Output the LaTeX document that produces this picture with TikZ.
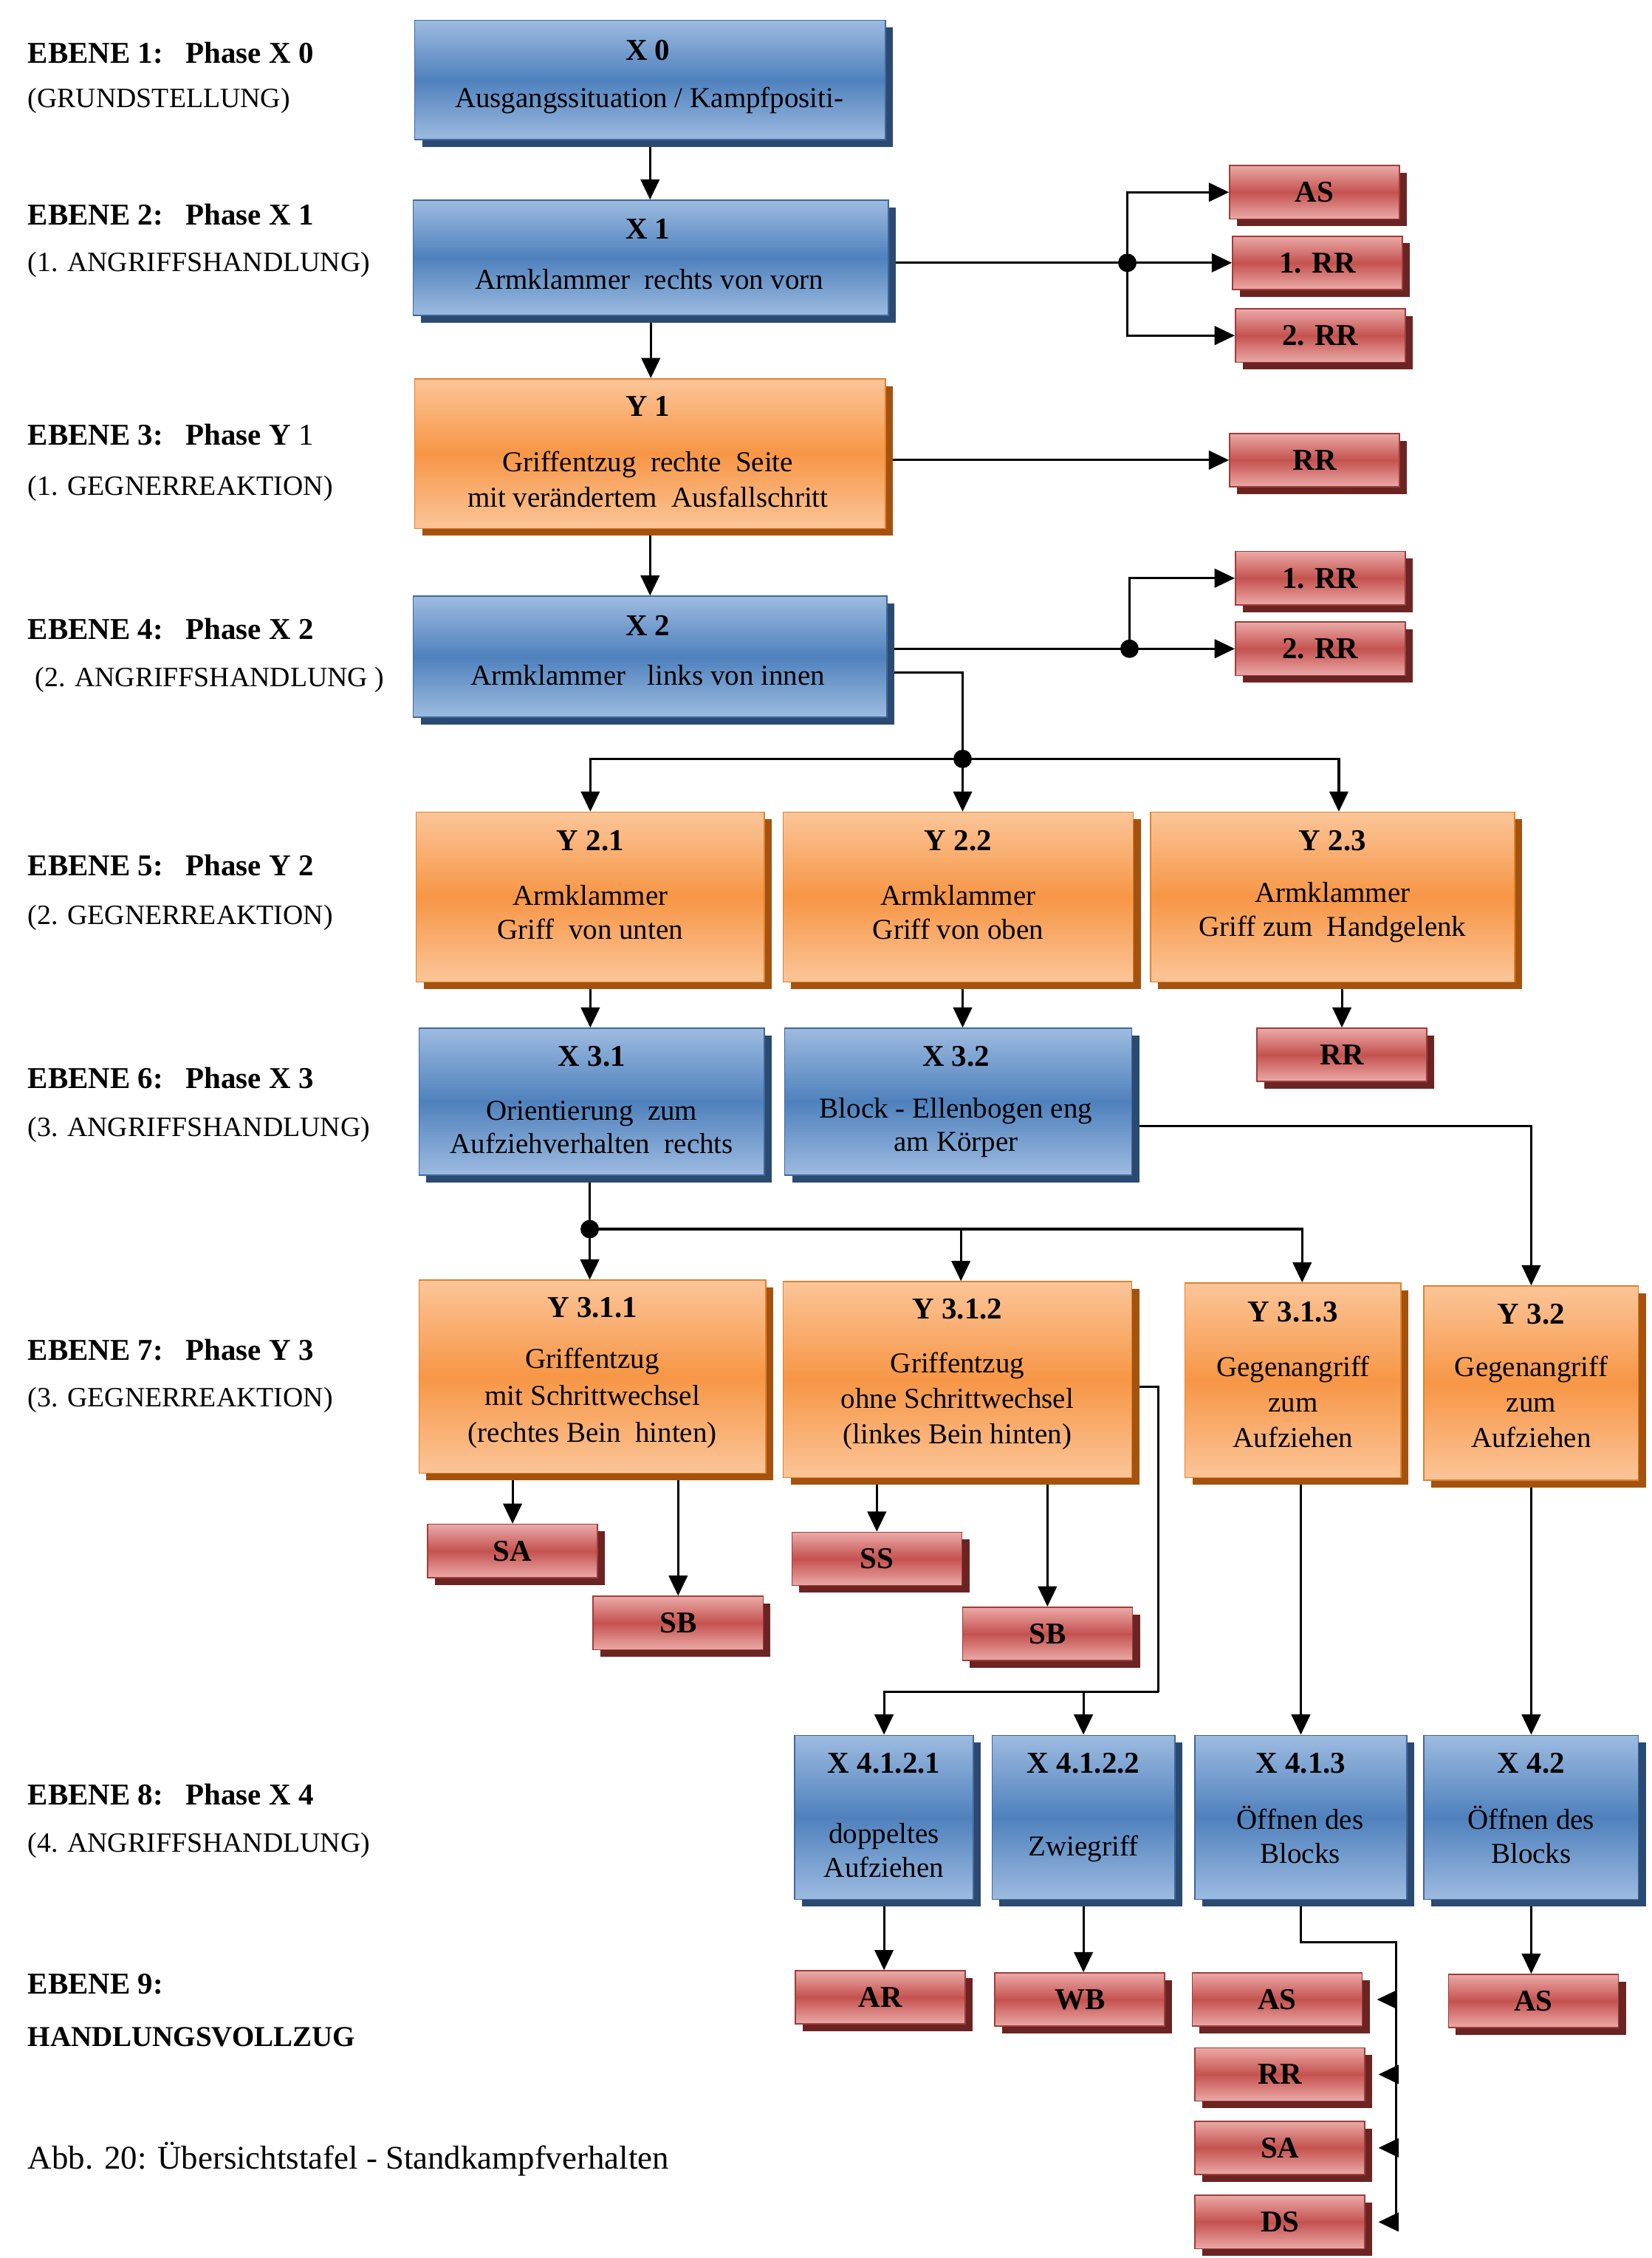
\documentclass[tikz,border=0pt]{standalone}
\usepackage{fontspec}
\setmainfont{Liberation Serif}
\usetikzlibrary{shadows,arrows.meta}
\pgfdeclarelayer{paper}
\pgfdeclarelayer{bg}
\pgfsetlayers{paper,bg,main}
\definecolor{bluelight}{HTML}{9DBBE0}
\definecolor{bluemid}{HTML}{4F81BD}
\definecolor{bluedraw}{HTML}{41679A}
\definecolor{blueshadow}{HTML}{2B4A72}
\definecolor{orlight}{HTML}{FBC598}
\definecolor{ormid}{HTML}{F79646}
\definecolor{ordraw}{HTML}{E0812F}
\definecolor{orshadow}{HTML}{A4520E}
\definecolor{redlight}{HTML}{EBAAA8}
\definecolor{redmid}{HTML}{C4524F}
\definecolor{reddraw}{HTML}{9E3D3A}
\definecolor{redshadow}{HTML}{6B2422}
\tikzset{
  box/.style={rectangle, inner sep=0pt, line width=0.4pt},
  bluebox/.style={box, draw=bluedraw, top color=bluelight, bottom color=bluelight, middle color=bluemid,
    drop shadow={shadow xshift=2.6pt, shadow yshift=-2.5pt, fill=blueshadow, opacity=1}},
  orbox/.style={box, draw=ordraw, top color=orlight, bottom color=orlight, middle color=ormid,
    drop shadow={shadow xshift=2.6pt, shadow yshift=-2.5pt, fill=orshadow, opacity=1}},
  redbox/.style={box, draw=reddraw, top color=redlight, bottom color=redlight, middle color=redmid,
    minimum width=59pt, minimum height=18.5pt, font=\fontsize{10.5}{12}\selectfont\bfseries,
    drop shadow={shadow xshift=2.6pt, shadow yshift=-2.5pt, fill=redshadow, opacity=1}},
  ttl/.style={inner sep=0pt, font=\fontsize{10.5}{12}\selectfont\bfseries},
  bdy/.style={inner sep=0pt, align=center, font=\fontsize{10}{12}\selectfont},
  lbl/.style={anchor=west, inner sep=0pt, font=\fontsize{10.5}{12}\selectfont\bfseries},
  sub/.style={anchor=west, inner sep=0pt, font=\fontsize{9.7}{12}\selectfont},
  ln/.style={draw, line width=0.8pt},
  arr/.style={draw, line width=0.8pt, -{Triangle[length=7pt,width=6.5pt]}},
}
\begin{document}
\begin{tikzpicture}[x=0.5pt, y=-0.5pt]
\useasboundingbox (0,0) rectangle (1147,1568);
\begin{pgfonlayer}{paper}
\fill[white] (0,0) rectangle (1147,1568);
\end{pgfonlayer}

% ---------- left labels ----------
\node[lbl] (e1) at (19,36.6) {EBENE 1:\ \ \ Phase X 0};
\node[sub] (s1) at (19,70) {(GRUNDSTELLUNG)};
\node[lbl] (e2) at (19,149) {EBENE 2:\ \ \ Phase X 1};
\node[sub] (s2) at (19,184) {(1. ANGRIFFSHANDLUNG)};
\node[lbl] (e3) at (19,302) {EBENE 3:\ \ \ Phase Y \textmd{1}};
\node[sub] (s3) at (19,339) {(1. GEGNERREAKTION)};
\node[lbl] (e4) at (19,437) {EBENE 4:\ \ \ Phase X 2};
\node[sub] (s4) at (24,472) {(2. ANGRIFFSHANDLUNG )};
\node[lbl] (e5) at (19,600.8) {EBENE 5:\ \ \ Phase Y 2};
\node[sub] (s5) at (19,637.3) {(2. GEGNERREAKTION)};
\node[lbl] (e6) at (19,748.9) {EBENE 6:\ \ \ Phase X 3};
\node[sub] (s6) at (19,784.7) {(3. ANGRIFFSHANDLUNG)};
\node[lbl] (e7) at (19,937.2) {EBENE 7:\ \ \ Phase Y 3};
\node[sub] (s7) at (19,972) {(3. GEGNERREAKTION)};
\node[lbl] (e8) at (19,1246) {EBENE 8:\ \ \ Phase X 4};
\node[sub] (s8) at (19,1281.7) {(4. ANGRIFFSHANDLUNG)};
\node[lbl] (e9) at (19,1377.9) {EBENE 9:};
\node[lbl, font=\fontsize{10}{12}\selectfont\bfseries] (s9) at (19,1414.4) {HANDLUNGSVOLLZUG};
\node[sub, font=\fontsize{11.5}{13}\selectfont] (cap) at (19,1499.3) {Abb. 20: Übersichtstafel - Standkampfverhalten};

% ---------- main boxes ----------
\node[bluebox, minimum width=163.5pt, minimum height=41.5pt] (x0) at (451.5,55.5) {};
\node[bluebox, minimum width=165pt, minimum height=40pt] (x1) at (452,179) {};
\node[orbox, minimum width=163.5pt, minimum height=52pt] (y1) at (451.5,315) {};
\node[bluebox, minimum width=164.5pt, minimum height=42pt] (x2) at (451.5,456) {};

\node[orbox, minimum width=121pt, minimum height=59pt] (y21) at (410,623) {};
\node[orbox, minimum width=121.5pt, minimum height=59pt] (y22) at (665.5,623) {};
\node[orbox, minimum width=126.5pt, minimum height=59pt] (y23) at (925.5,623) {};

\node[bluebox, minimum width=120pt, minimum height=51pt] (x31) at (411,765) {};
\node[bluebox, minimum width=120.5pt, minimum height=51pt] (x32) at (665.5,765) {};

\node[orbox, minimum width=120.5pt, minimum height=67pt] (y311) at (411.5,956) {};
\node[orbox, minimum width=121pt, minimum height=68pt] (y312) at (665,958) {};
\node[orbox, minimum width=75pt, minimum height=67.5pt] (y313) at (898,958.5) {};
\node[orbox, minimum width=74.5pt, minimum height=67.5pt] (y32) at (1063.5,960.5) {};

\node[bluebox, minimum width=62pt, minimum height=57pt] (x4121) at (614,1262) {};
\node[bluebox, minimum width=63.5pt, minimum height=57pt] (x4122) at (752.5,1262) {};
\node[bluebox, minimum width=73.5pt, minimum height=57pt] (x413) at (903.5,1262) {};
\node[bluebox, minimum width=74.5pt, minimum height=57pt] (x42) at (1063.5,1262) {};

% ---------- box texts ----------
\node[ttl] (x0t) at (450,34.7) {X 0};
\node[bdy] (x0b) at (451,69.5) {Ausgangssituation / Kampfpositi-};
\node[ttl] (x1t) at (450,159) {X 1};
\node[bdy] (x1b) at (451,194) {Armklammer\ \ rechts von vorn};
\node[ttl] (y1t) at (450,282) {Y 1};
\node[bdy, font=\fontsize{10}{12.25}\selectfont] (y1b) at (450,333) {Griffentzug\ \ rechte\ \ Seite\\mit verändertem\ \ Ausfallschritt};
\node[ttl] (x2t) at (450,434.5) {X 2};
\node[bdy] (x2b) at (450,469) {Armklammer\ \ \ links von innen};

\node[ttl] (y21t) at (410,583.6) {Y 2.1};
\node[bdy, font=\fontsize{10}{11.9}\selectfont] (y21b) at (410,633.5) {Armklammer\\Griff\ \ von unten};
\node[ttl] (y22t) at (665.5,583.6) {Y 2.2};
\node[bdy, font=\fontsize{10}{11.9}\selectfont] (y22b) at (665.5,633.5) {Armklammer\\Griff von oben};
\node[ttl] (y23t) at (925.5,583.6) {Y 2.3};
\node[bdy, font=\fontsize{10}{11.9}\selectfont] (y23b) at (925.5,633.5) {Armklammer\\Griff zum\ \ Handgelenk};

\node[ttl] (x31t) at (411,733.5) {X 3.1};
\node[bdy, font=\fontsize{10}{11.5}\selectfont] (x31b) at (411,783) {Orientierung\ \ zum\\Aufziehverhalten\ \ rechts};
\node[ttl] (x32t) at (664,733.5) {X 3.2};
\node[bdy, font=\fontsize{10}{11.5}\selectfont] (x32b) at (664,783) {Block - Ellenbogen eng\\am Körper};

\node[ttl] (y311t) at (411.5,908) {Y 3.1.1};
\node[bdy, font=\fontsize{10}{12.8}\selectfont] (y311b) at (411.5,971) {Griffentzug\\mit Schrittwechsel\\(rechtes Bein\ \ hinten)};
\node[ttl] (y312t) at (665,909) {Y 3.1.2};
\node[bdy, font=\fontsize{10}{12.3}\selectfont] (y312b) at (665,973) {Griffentzug\\ohne Schrittwechsel\\(linkes Bein hinten)};
\node[ttl] (y313t) at (898,911) {Y 3.1.3};
\node[bdy, font=\fontsize{10}{12.4}\selectfont] (y313b) at (898,973.5) {Gegenangriff\\zum\\Aufziehen};
\node[ttl] (y32t) at (1063.5,912.7) {Y 3.2};
\node[bdy, font=\fontsize{10}{12.4}\selectfont] (y32b) at (1063.5,973.5) {Gegenangriff\\zum\\Aufziehen};

\node[ttl] (x4121t) at (614,1224.3) {X 4.1.2.1};
\node[bdy, font=\fontsize{10}{11.9}\selectfont] (x4121b) at (614,1285) {doppeltes\\Aufziehen};
\node[ttl] (x4122t) at (752.5,1224.3) {X 4.1.2.2};
\node[bdy] (x4122b) at (752.5,1284) {Zwiegriff};
\node[ttl] (x413t) at (903.5,1224.3) {X 4.1.3};
\node[bdy, font=\fontsize{10}{11.9}\selectfont] (x413b) at (903,1274) {Öffnen des\\Blocks};
\node[ttl] (x42t) at (1063.5,1224.3) {X 4.2};
\node[bdy, font=\fontsize{10}{11.9}\selectfont] (x42b) at (1063.5,1274) {Öffnen des\\Blocks};

% ---------- red boxes ----------
\node[redbox] (rAS1) at (913,133.5) {AS};
\node[redbox] (rRR1) at (915,182.5) {1. RR};
\node[redbox] (rRR2) at (917,233) {2. RR};
\node[redbox] (rRRy1) at (913,319.5) {RR};
\node[redbox] (rRR1b) at (917,401.5) {1. RR};
\node[redbox] (rRR2b) at (917,450.5) {2. RR};
\node[redbox] (rRRy23) at (932,732.5) {RR};
\node[redbox] (rSA) at (356,1077) {SA};
\node[redbox] (rSB) at (471,1127) {SB};
\node[redbox] (rSS) at (609,1082.5) {SS};
\node[redbox] (rSB2) at (727.5,1134.5) {SB};
\node[redbox] (rAR) at (611.5,1387) {AR};
\node[redbox] (rWB) at (750,1388.5) {WB};
\node[redbox] (rAS2) at (887,1388.5) {AS};
\node[redbox] (rRR3) at (889,1440.5) {RR};
\node[redbox] (rSA2) at (889,1491.5) {SA};
\node[redbox] (rDS) at (889,1543) {DS};
\node[redbox] (rAS3) at (1065,1389.5) {AS};

% ---------- junction points ----------
\coordinate (d1) at (783,182.5);
\coordinate (d2) at (784.5,450.5);
\coordinate (d3) at (668.6,527);
\coordinate (d4) at (409.6,853.5);
\coordinate (c1) at (804.6,1175);
\coordinate (c2) at (969.6,1348.6);
\coordinate (c3) at (969.6,1546);

% ---------- connectors ----------
\begin{pgfonlayer}{bg}
\draw[arr] (x0.south) -- (x0.south |- x1.north);
\draw[arr] (x1.south) -- (x1.south |- y1.north);
\draw[arr] (y1.south) -- (y1.south |- x2.north);

\draw[ln] (x1.east |- d1) -- (d1);
\draw[arr] (d1) -- (rRR1.west);
\draw[arr] (d1) |- (rAS1.west);
\draw[arr] (d1) |- (rRR2.west);

\draw[arr] (y1.east |- rRRy1.west) -- (rRRy1.west);

\draw[ln] (x2.east |- d2) -- (d2);
\draw[arr] (d2) -- (rRR2b.west);
\draw[arr] (d2) |- (rRR1b.west);

\draw[ln] ([yshift=-5.5pt]x2.east) -| (d3);
\draw[arr] (d3) -| (y21.north);
\draw[arr] (d3) -- (d3 |- y22.north);
\draw[arr] (d3) -| ([xshift=2.2pt]y23.north);

\draw[arr] (y21.south) -- (y21.south |- x31.north);
\draw[arr] (d3 |- y22.south) -- (d3 |- x32.north);
\draw[arr] (rRRy23.north |- y23.south) -- (rRRy23.north);

\draw[arr] ([yshift=-8.5pt]x32.east) -| (y32.north);

\draw[ln] (d4 |- x31.south) -- (d4);
\draw[arr] (d4) -- (d4 |- y311.north);
\draw[arr] (d4) -| ([xshift=1.2pt]y312.north);
\draw[arr] (d4) -| ([xshift=3.2pt]y313.north);

\draw[arr] (rSA.north |- y311.south) -- (rSA.north);
\draw[arr] (rSB.north |- y311.south) -- (rSB.north);
\draw[arr] (rSS.north |- y312.south) -- (rSS.north);
\draw[arr] (rSB2.north |- y312.south) -- (rSB2.north);

\draw[ln] ([yshift=-2.5pt]y312.east) -| (c1);
\draw[arr] (c1) -| (x4121.north);
\draw[arr] (c1 -| x4122.north) -- (x4122.north);

\draw[arr] (x413.north |- y313.south) -- (x413.north);
\draw[arr] (y32.south) -- (y32.south |- x42.north);

\draw[arr] (x4121.south) -- (x4121.south |- rAR.north);
\draw[arr] (x4122.south) -- (x4122.south |- rWB.north);
\draw[arr] (x42.south) -- (x42.south |- rAS3.north);

\draw[ln] (x413.south) |- (c2) -- (c3);
\draw[arr] (c2 |- rAS2.east) -- ([xshift=5pt]rAS2.east);
\draw[arr] (c2 |- rRR3.east) -- ([xshift=4.5pt]rRR3.east);
\draw[arr] (c2 |- rSA2.east) -- ([xshift=4.5pt]rSA2.east);
\draw[arr] (c2 |- rDS.east) -- ([xshift=4.5pt]rDS.east);
\end{pgfonlayer}

\fill (d1) circle[radius=3.2pt];
\fill (d2) circle[radius=3.2pt];
\fill (d3) circle[radius=3.2pt];
\fill (d4) circle[radius=3.2pt];
\end{tikzpicture}
\end{document}
